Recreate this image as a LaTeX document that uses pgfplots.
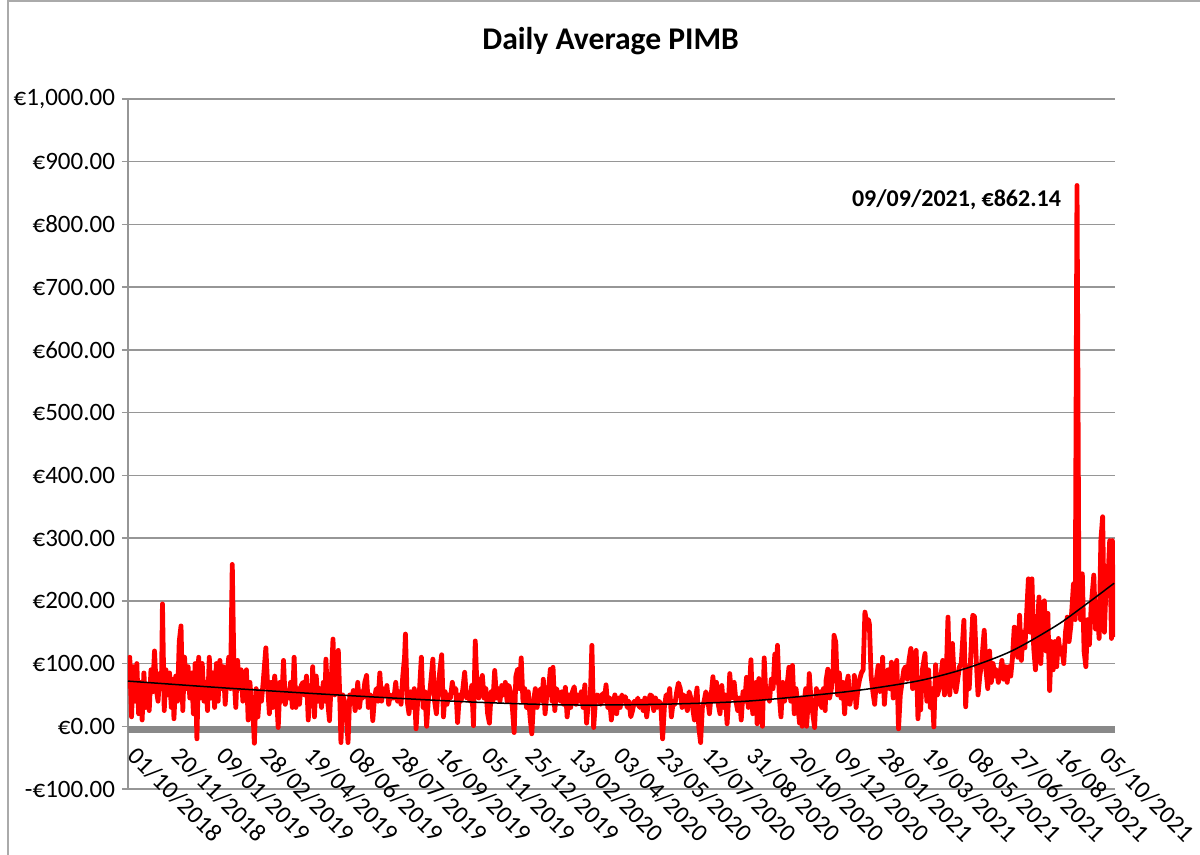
\documentclass[border=0pt]{standalone}
\usepackage{pgfplots}
\pgfplotsset{compat=1.18}
\usepackage{fontspec}
\setmainfont{Carlito}
\definecolor{gridgray}{RGB}{150,150,150}
\definecolor{axgray}{RGB}{137,137,137}
\definecolor{frame}{RGB}{170,170,170}
\begin{document}
\begin{tikzpicture}
\begin{axis}[
  scale only axis, width=493.5pt, height=345pt,
  xmin=0, xmax=1117, ymin=-100, ymax=1000,
  axis lines*=left,
  x axis line style={draw=none},
  y axis line style={gridgray, line width=0.75pt},
  ytick={-100,0,100,200,300,400,500,600,700,800,900,1000},
  yticklabels={-€100.00,€0.00,€100.00,€200.00,€300.00,€400.00,€500.00,€600.00,€700.00,€800.00,€900.00,{€1,000.00}},
  ymajorgrids, grid style={gridgray, line width=0.75pt},
  xtick={0,50,...,1100},
  xticklabels={01/10/2018,20/11/2018,09/01/2019,28/02/2019,19/04/2019,08/06/2019,28/07/2019,16/09/2019,05/11/2019,25/12/2019,13/02/2020,03/04/2020,23/05/2020,12/07/2020,31/08/2020,20/10/2020,09/12/2020,28/01/2021,19/03/2021,08/05/2021,27/06/2021,16/08/2021,05/10/2021},
  xtick style={draw=none},
  ytick style={gridgray, line width=0.75pt},
  tick align=outside, major tick length=3pt,
  yticklabel style={font=\fontsize{12.5}{15}\selectfont},
  xticklabel style={yshift=25pt, xshift=5.5pt, font=\fontsize{12.5}{15}\selectfont, rotate=-45, anchor=north west, inner sep=0pt},
  title={Daily Average PIMB},
  title style={font=\fontsize{15.8}{19}\selectfont\bfseries, at={(axis description cs:0.489,1)}, anchor=base, yshift=18.5pt},
]
\addplot[axgray, line width=3.5pt, forget plot] coordinates {(0,-5.5) (1117,-5.5)};
\addplot[red, line width=2.4pt, line join=round] coordinates {
(0,60)(2,110)(4,15)(6,95)(8,40)(10,100)(12,20)(14,70)(16,10)(18,85)(20,30)(22,65)(24,25)(26,90)(28,55)(30,120)(32,60)(34,40)(36,85)(38,75)(39,195)(41,25)(43,90)(45,50)(47,85)(49,30)
(51,75)(52,12)(54,80)(56,40)(58,135)(60,160)(62,25)(64,110)(66,60)(68,95)(70,45)(72,85)(74,20)(76,100)(78,-20)(80,110)(82,45)(84,100)(86,40)(88,70)(90,25)(92,110)(94,45)(96,85)(98,30)
(100,100)(102,40)(104,105)(106,60)(108,95)(110,35)(112,80)(114,110)(116,60)(118,258)(120,80)(122,30)(124,105)(126,60)(128,90)(130,40)(132,55)(134,90)(136,10)(138,70)(140,30)(142,5)(143,-27)(145,60)(147,15)(149,55)
(151,40)(153,70)(156,125)(158,65)(160,20)(162,70)(164,30)(166,80)(168,50)(170,-2)(172,70)(174,40)(176,105)(178,35)(180,55)(182,45)(184,70)(186,30)(188,110)(190,30)(192,60)(194,35)(196,65)(198,70)
(200,50)(202,80)(204,10)(206,65)(208,40)(209,95)(211,15)(213,80)(215,40)(217,60)(219,30)(221,70)
(223,40)(224,107)(226,40)(228,9)(230,70)(232,139)(234,50)(236,80)(238,121)(240,30)(241,-26)(243,50)(245,40)(247,25)(249,-26)(251,50)(253,40)(255,57)(257,25)(259,50)(260,70)(262,30)(264,55)(266,45)(268,70)(270,81)(272,30)(274,50)(276,35)(277,9)(279,46)
(281,60)(283,40)(285,85)(287,40)(289,60)(291,50)(293,65)(295,35)(297,50)(299,45)(301,45)(303,70)(305,40)(307,55)(309,35)(311,80)(313,110)(314,147)(316,40)(318,20)(320,55)(322,30)(324,60)(326,-4)(328,45)(330,60)(332,110)(334,30)(336,55)(338,0)
(340,45)(342,60)(345,107)(347,40)(349,20)(351,60)(353,90)(355,114)(357,15)(359,55)(361,35)(363,50)(365,45)(367,70)(369,55)(371,60)(373,6)(375,50)(377,40)(379,60)(381,86)(383,45)(385,50)(387,40)(389,65)(391,1)(393,136)(395,60)(397,45)(399,70)
(401,81)(403,45)(405,60)(407,20)(409,5)(411,55)(413,40)(415,89)(417,45)(419,60)(421,40)(423,65)(425,50)(427,70)(429,40)(431,65)(433,55)(435,30)(437,-10)(439,80)(441,91)(443,60)
(445,109)(447,40)(449,60)(451,30)(453,55)(455,15)(457,-12)(459,40)(461,60)(463,30)(465,50)(467,60)(469,40)(470,75)(472,20)(474,50)(476,60)(478,91)(480,40)(481,94)(483,25)(485,60)(487,50)(489,40)(491,55)(493,35)(495,62)(497,15)(499,50)
(501,30)(503,55)(505,63)(507,35)(509,50)(511,40)(513,55)(515,30)(517,66)(519,5)(521,40)(523,35)(525,129)(527,-2)(529,40)(531,50)(533,48)(535,35)(537,52)(539,40)(541,66)(543,30)(545,45)(547,10)(549,35)
(551,50)(553,20)(555,45)(557,30)(559,50)(561,40)(563,47)(565,30)(567,40)(569,15)(571,25)(573,40)(575,35)(577,45)(579,30)(581,40)(583,25)(585,45)(587,15)(589,40)(591,50)(593,48)(595,25)(597,45)(599,30)
(601,40)(603,35)(605,-20)(607,30)(609,50)(611,40)(613,60)(615,15)(617,40)(619,35)(621,55)(623,69)(625,60)(627,30)(629,50)(631,40)(633,25)(635,55)(637,45)(639,30)(641,10)(643,50)(644,61)(646,-2)(648,-26)
(650,30)(652,40)(654,55)(656,45)(658,20)(660,50)(662,79)
(664,40)(666,70)(668,35)(670,20)(672,65)(674,30)(676,50)(678,4)(680,50)(681,84)(683,45)(685,60)(686,70)(688,40)(690,25)(692,45)(694,10)(696,55)(698,40)(700,78)(702,30)(703,50)(705,106)(707,20)(709,55)(711,70)(712,4)(714,76)(716,30)(718,0)
(720,109)(722,45)(724,60)(726,40)(728,75)(730,60)(732,115)(734,70)(735,129)(737,50)(739,15)(741,70)(743,40)(745,55)(747,80)(748,94)(750,40)(752,97)(754,20)(756,60)(758,35)(760,5)(762,45)(763,0)(765,35)(767,60)(768,0)(770,45)(771,84)(773,40)(775,20)(777,-2)(779,60)
(781,35)(783,55)(785,30)(787,60)(789,25)(790,73)(792,91)(794,45)(796,60)(798,90)(799,145)(801,134)(803,50)(805,85)(807,45)(809,70)(811,20)(813,65)(815,80)(817,35)(819,55)(821,45)(822,81)(824,30)(826,60)(828,75)(830,85)(832,90)(834,182)(836,165)(838,170)(839,163)
(841,80)(843,55)(845,35)(847,75)(849,97)(851,55)(853,60)(854,110)(856,35)(858,75)(860,90)(862,60)(864,102)(866,45)(868,85)(870,105)(872,-4)(874,50)(876,70)(878,90)(880,95)(882,75)(884,107)
(886,124)(888,60)(890,90)(892,121)(894,12)(896,60)(897,26)(899,90)(902,116)(904,40)(906,90)(908,30)(910,60)(912,-1)(914,98)(916,50)(918,60)(920,80)(922,105)(924,50)(926,80)(928,174)(930,50)(932,100)(933,132)(935,75)(937,55)(939,75)
(941,95)(943,100)(946,169)(948,31)(950,95)(952,60)(954,120)(956,177)(958,175)(960,105)(962,50)(964,80)(966,100)(969,153)(971,90)(973,60)(975,120)(977,70)(979,100)(981,80)(983,90)(985,70)(987,85)(989,105)(991,75)(993,95)(995,70)(997,95)(999,80)
(1001,110)(1003,158)(1005,125)(1007,110)(1009,177)(1011,105)(1013,150)(1015,125)(1017,180)(1019,235)(1021,150)(1023,235)(1025,125)(1027,90)(1029,150)(1031,206)(1033,100)(1035,160)(1037,200)(1039,120)(1041,180)(1043,57)(1045,135)(1047,90)(1049,135)
(1051,95)(1053,140)(1055,115)(1057,125)(1059,100)(1061,150)(1063,174)(1065,135)(1067,160)(1070,227)(1072,170)(1074,862.14)(1076,250)(1078,170)(1080,243)(1082,120)(1084,95)(1086,170)(1088,130)(1090,190)(1093,241)(1095,155)(1097,190)(1099,140)
(1101,296)(1103,334)(1105,150)(1107,230)(1109,233)(1111,296)(1113,140)(1114,296)(1115,158)(1116,142)
};
\addplot[black, line width=0.75pt, smooth] coordinates {
(0,72)(100,62)(200,53)(300,45)(400,38)(500,34)(600,35)(700,40)(800,53)(850,62)(900,74)(950,93)(1000,120)(1050,160)(1080,190)(1116,228)
};
\node[font=\fontsize{12}{14}\selectfont\bfseries, anchor=base east, inner sep=0pt, xshift=-7.8pt] at (axis cs:1074,828) {09/09/2021, €862.14};
\end{axis}
\pgfresetboundingbox
\path[use as bounding box] (-64pt,-33pt) rectangle (536pt,394.5pt);
\draw[frame, line width=0.75pt] (-60pt,-40pt) -- (-60pt,394pt) -- (540pt,394pt);
\end{tikzpicture}
\end{document}
